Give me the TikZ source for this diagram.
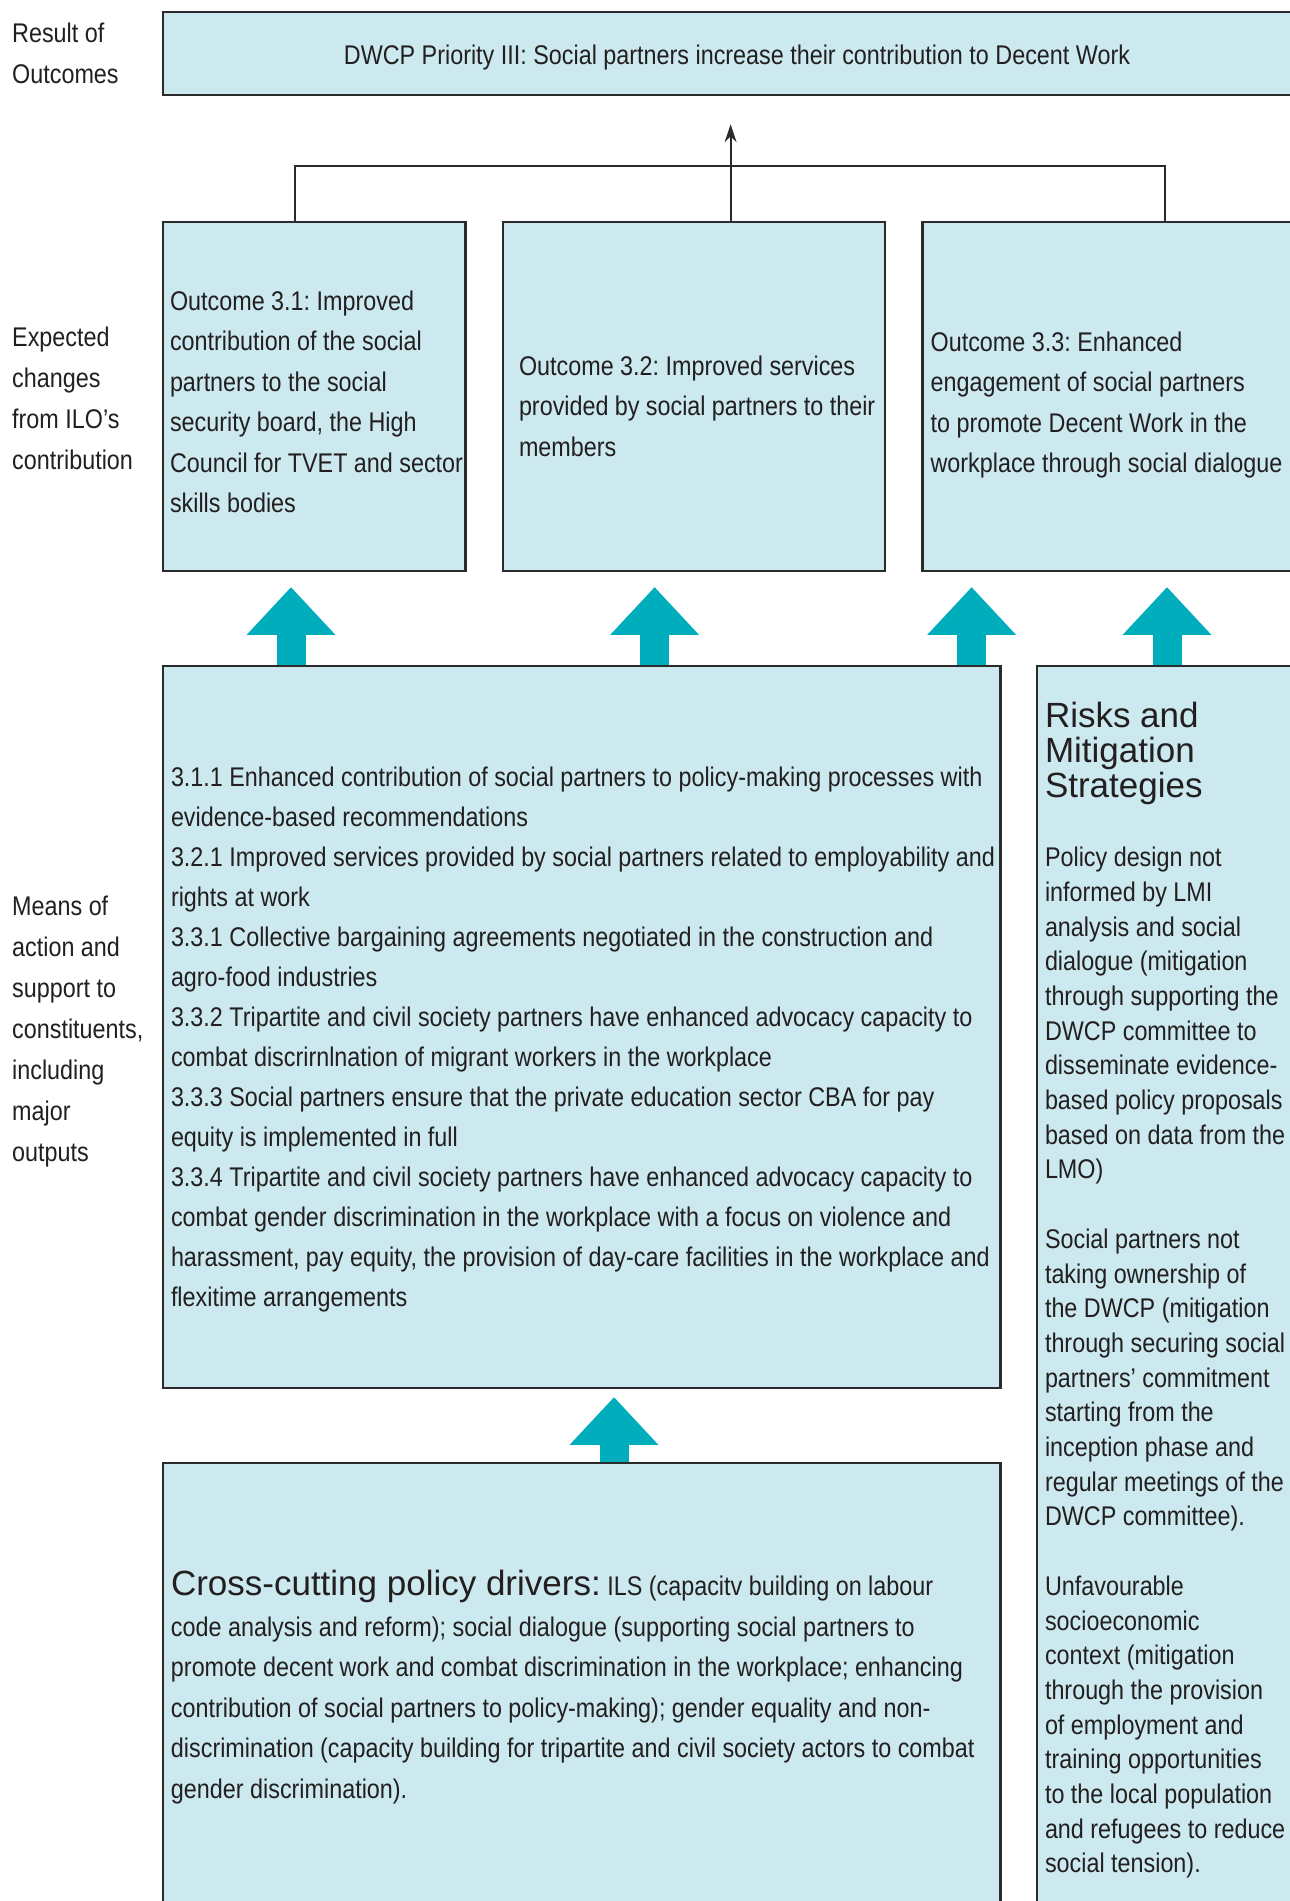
\documentclass[tikz,border=0pt]{standalone}
\usepackage{fontspec}
\setmainfont[FakeStretch=0.865]{Liberation Sans}
\newfontfamily\widefont{Liberation Sans}
\usepackage{xcolor}
\usepackage{tikz}
\usetikzlibrary{positioning,arrows.meta,calc}
\definecolor{boxblue}{HTML}{CBE9EE}
\definecolor{arrteal}{HTML}{00ADBD}
\definecolor{edgegray}{HTML}{2B2B2B}
\definecolor{ink}{HTML}{231F20}
% tall invisible strut on a first line pushes centred text down
\newcommand{\boxstrut}[1]{\rule{0pt}{#1pt}}

\begin{document}
\frenchspacing
\begin{tikzpicture}[x=1pt, y=-1pt,
  font=\fontsize{27}{40.5}\selectfont,
  every node/.append style={text=ink},
  box/.style={draw=edgegray, line width=2.5pt, fill=boxblue, inner xsep=8pt, inner ysep=0pt, align=left,
    execute at begin node={\spaceskip=0pt\xspaceskip=0pt\rightskip=0pt plus 1fil minus 100pt\relax}},
  lab/.style={anchor=west, align=left, inner sep=0pt, font=\fontsize{27}{41}\selectfont},
  fat/.style={arrteal, line width=29pt, -{Triangle[length=47.7pt, width=89pt, line width=0pt]}, shorten >=#1},
  fat/.default=15pt,
  link/.style={draw=edgegray, line width=2pt},
  arr/.style={link, -{Stealth[length=18pt, width=12pt]}},
]
\useasboundingbox (0,0) rectangle (1290,1901);
\clip (0,0) rectangle (1290,1901);
% ================= ROW LABELS =================
\node[lab] (rowres) at (12,53.5) {Result of\\Outcomes};
\node[lab] (rowexp) at (12,398) {Expected\\changes\\from ILO’s\\contribution};
\node[lab] (rowmns) at (12,1031.5) {Means of\\action and\\support to\\constituents,\\including\\major\\outputs};
% ================= RESULT =================
\node[box, text width=1132pt, minimum width=1148pt, minimum height=83pt,
  execute at begin node={\spaceskip=0pt\xspaceskip=0pt\leftskip=0pt plus 1fil\rightskip=0pt plus 1fil\parfillskip=0pt\relax}] (prio) at (737,53.5) {\boxstrut{27}DWCP Priority III: Social partners increase their contribution to Decent Work};
% ================= OUTCOMES =================
\node[box, inner xsep=7pt, text width=288.6pt, minimum width=302.6pt, minimum height=349pt] (out1) at (314.3,396.5) {\boxstrut{30}Outcome 3.1: Improved\\contribution of the social\\partners to the social\\security board, the High\\Council for TVET and sector\\skills bodies};
\node[box, inner xsep=16pt, text width=350pt, minimum width=382pt, minimum height=349pt] (out2) at (694,396.5) {\boxstrut{39}Outcome 3.2: Improved services\\provided by social partners to their\\members};
\node[box, text width=361.4pt, minimum width=377.4pt, minimum height=349pt] (out3) at (1111.3,396.5) {\boxstrut{37}Outcome 3.3: Enhanced\\engagement of social partners\\to promote Decent Work in the\\workplace through social dialogue};
% ================= MEANS OF ACTION =================
\node[box, text width=821.7pt, minimum width=837.7pt, minimum height=722pt, font=\fontsize{27}{40}\selectfont] (mns) at (581.85,1027) {\boxstrut{44}3.1.1 Enhanced contribution of social partners to policy-making processes with\\evidence-based recommendations\\3.2.1 Improved services provided by social partners related to employability and\\rights at work\\3.3.1 Collective bargaining agreements negotiated in the construction and\\agro-food industries\\3.3.2 Tripartite and civil society partners have enhanced advocacy capacity to\\combat discrirnlnation of migrant workers in the workplace\\3.3.3 Social partners ensure that the private education sector CBA for pay\\equity is implemented in full\\3.3.4 Tripartite and civil society partners have enhanced advocacy capacity to\\combat gender discrimination in the workplace with a focus on violence and\\harassment, pay equity, the provision of day-care facilities in the workplace and\\flexitime arrangements};
% risks (right)
\node[box, text width=257pt, minimum width=273pt, minimum height=1249pt, font=\fontsize{27}{34.7}\selectfont] (risk) at (1173.5,1290.5) {{\widefont\fontsize{35}{34.7}\selectfont Risks and\\Mitigation\\Strategies}\\[34.7pt]Policy design not\\informed by LMI\\analysis and social\\dialogue (mitigation\\through supporting the\\DWCP committee to\\disseminate evidence-\\based policy proposals\\based on data from the\\LMO)\\[34.7pt]Social partners not\\taking ownership of\\the DWCP (mitigation\\through securing social\\partners’ commitment\\starting from the\\inception phase and\\regular meetings of the\\DWCP committee).\\[34.7pt]Unfavourable\\socioeconomic\\context (mitigation\\through the provision\\of employment and\\training opportunities\\to the local population\\and refugees to reduce\\social tension).};
% ================= CROSS-CUTTING =================
\node[box, text width=821.7pt, minimum width=837.7pt, minimum height=448.5pt, font=\fontsize{27}{40.5}\selectfont] (xcut) at (581.85,1687.25) {{\widefont\fontsize{35}{40.5}\selectfont Cross-cutting policy drivers:} ILS (capacitv building on labour\\code analysis and reform); social dialogue (supporting social partners to\\promote decent work and combat discrimination in the workplace; enhancing\\contribution of social partners to policy-making); gender equality and non-\\discrimination (capacity building for tripartite and civil society actors to combat\\gender discrimination).};
% ================= CONNECTORS =================
\coordinate (jl) at (294.5,166);
\coordinate (jr) at (1165,166);
\coordinate (jm) at (730.6,166);
\draw[link] (out1.north -| jl) -- (jl) -- (jr) -- (out3.north -| jr);
\draw[arr, shorten >=28pt] (out2.north -| jm) -- (prio.south -| jm);
% fat arrows
\coordinate (u1) at (291,620);
\coordinate (u2) at (654.6,620);
\coordinate (u3) at (971.6,620);
\coordinate (u4) at (1167,620);
\coordinate (u5) at (614,1420);
\draw[fat] (mns.north -| u1) -- (out1.south -| u1);
\draw[fat] (mns.north -| u2) -- (out2.south -| u2);
\draw[fat] (mns.north -| u3) -- (out3.south -| u3);
\draw[fat] (risk.north -| u4) -- (out3.south -| u4);
\draw[fat=8pt] (xcut.north -| u5) -- (mns.south -| u5);
\end{tikzpicture}
\end{document}
